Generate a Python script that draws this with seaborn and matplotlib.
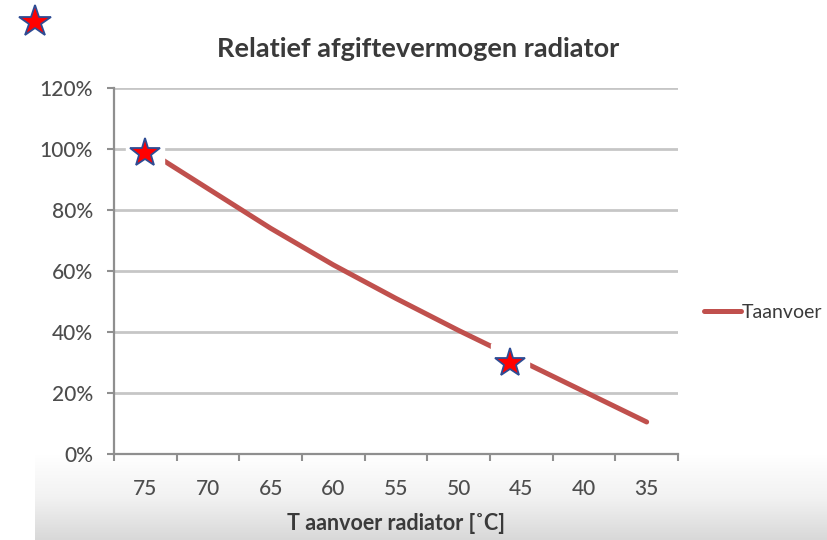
import numpy as np
import pandas as pd
import matplotlib
matplotlib.use("Agg")
import matplotlib.pyplot as plt
from matplotlib.lines import Line2D
from matplotlib.ticker import FixedLocator
from matplotlib.colors import LinearSegmentedColormap
import seaborn as sns

# ---- data ----
temps = [75, 70, 65, 60, 55, 50, 45, 40, 35]
vermogen = [100, 87, 74, 62, 51, 40.5, 30.5, 20.5, 10.5]   # % relatief afgiftevermogen
y_ticks = [0, 20, 40, 60, 80, 100, 120]
star_temps = [75, 45.9]
star_values = [98.7, 29.8]
series_name = "Taanvoer"
title = "Relatief afgiftevermogen radiator"
xlabel = "T aanvoer radiator [˚C]"

sns.set_style("white")
plt.rcParams["font.family"] = ["Lato", "DejaVu Sans"]

W, H = 828, 540
fig = plt.figure(figsize=(W / 100, H / 100), dpi=100)
fig.patch.set_facecolor("white")

# bottom grey gradient band (white at top -> grey at bottom)
bg = fig.add_axes([35 / W, 0, 1 - 35 / W, 85 / H], zorder=-5)
grad = np.linspace(1.0, 0.0, 256).reshape(-1, 1)   # row 0 = bottom (dark)
cmap = LinearSegmentedColormap.from_list("g", ["#ffffff", "#f2f2f2", "#d8d8d8"])
bg.imshow(grad, aspect="auto", cmap=cmap, extent=[0, 1, 0, 1], vmin=0, vmax=1,
          origin="lower")
bg.set_xlim(0, 1)
bg.set_ylim(0, 1)
bg.set_axis_off()

ax = fig.add_axes([114 / W, 1 - 454 / H, 564 / W, 366 / H], zorder=1)
ax.patch.set_alpha(0)

pos = np.arange(len(temps))
df = pd.DataFrame({"pos": pos, "vermogen": vermogen, "reeks": series_name})
sns.lineplot(data=df, x="pos", y="vermogen", hue="reeks", palette=["#c0504d"],
             linewidth=3.6, ax=ax, zorder=3, solid_capstyle="round")

# stars (annotations) with white box behind
sx = [(temps[0] - t) / (temps[0] - temps[1]) for t in star_temps]
ax.plot(sx, star_values, linestyle="none", marker="s", ms=27, mfc="white",
        mec="white", zorder=4)
ax.plot(sx, star_values, linestyle="none", marker="*", ms=22, mfc="#ff0000",
        mec="#2e4c94", mew=1.3, zorder=5)

ax.set_xlim(-0.5, len(temps) - 0.5)
ax.set_ylim(0, 120)
ax.set_xticks(pos)
ax.set_xticklabels([str(t) for t in temps])
ax.xaxis.set_minor_locator(FixedLocator(np.arange(-0.5, len(temps), 1.0)))
ax.set_yticks(y_ticks)
ax.set_yticklabels([f"{v}%" for v in y_ticks])

ax.grid(axis="y", color="#c6c6c6", linewidth=2.0)
ax.set_axisbelow(True)
for s in ["top", "right"]:
    ax.spines[s].set_visible(False)
for s in ["left", "bottom"]:
    ax.spines[s].set_color("#8f8f8f")
    ax.spines[s].set_linewidth(1.6)

ax.tick_params(axis="x", which="major", length=0, pad=18, labelsize=15,
               labelcolor="#4d4d4d")
ax.tick_params(axis="x", which="minor", length=5, width=1.5, color="#8f8f8f",
               direction="out", bottom=True)
ax.tick_params(axis="y", which="major", length=5, width=1.5, color="#8f8f8f",
               direction="out", pad=10, labelsize=15, labelcolor="#4d4d4d", left=True)
for lab in ax.get_xticklabels() + ax.get_yticklabels():
    lab.set_fontweight("medium")

ax.set_xlabel(xlabel, fontsize=15.5, fontweight="bold", color="#3a3a3a", labelpad=10)
ax.set_ylabel("")
ax.set_title(title, fontsize=19.5, fontweight="bold", color="#3a3a3a",
             x=0.539, pad=22)

leg = ax.legend(loc="center left", bbox_to_anchor=(704 / W, 1 - 312 / H),
                bbox_transform=fig.transFigure, frameon=False, borderpad=0,
                borderaxespad=0, handlelength=1.9, handletextpad=0.05,
                fontsize=14)
for t in leg.get_texts():
    t.set_color("#3a3a3a")

# decorative star in top-left corner
fig.add_artist(Line2D([35 / W], [1 - 22 / H], marker="*", ms=24, mfc="#ff0000",
                      mec="#2e4c94", mew=1.3, linestyle="none",
                      transform=fig.transFigure))

fig.savefig("out.png", dpi=100)
